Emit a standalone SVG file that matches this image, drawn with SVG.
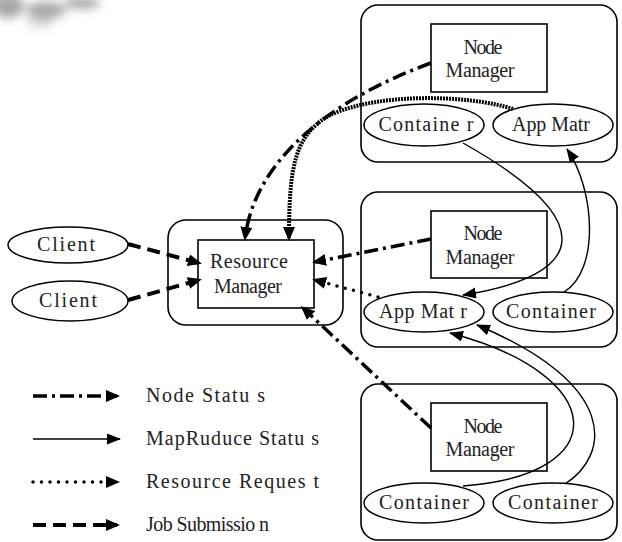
<svg xmlns="http://www.w3.org/2000/svg" width="622" height="542" viewBox="0 0 622 542">
<style>
.bg{fill:#fff}
.cl{fill:#fff;stroke:#000;stroke-width:1.6}
.bx{fill:#fff;stroke:#000;stroke-width:1.6}
.el{fill:#fff;stroke:#000;stroke-width:1.5}
.t{font-family:"Liberation Serif","Times New Roman",serif;font-size:20px;fill:#222;text-anchor:middle}
.tl{font-family:"Liberation Serif","Times New Roman",serif;font-size:20px;fill:#222;text-anchor:start}
.ns{fill:none;stroke:#000;stroke-width:3.5;stroke-dasharray:14 5 3 5}
.js{fill:none;stroke:#000;stroke-width:4;stroke-dasharray:13 7}
.rr{fill:none;stroke:#000;stroke-width:3.5;stroke-linecap:round;stroke-dasharray:0 8.5}
.rrd{fill:none;stroke:#000;stroke-width:4;stroke-dasharray:2 1}
.mr{fill:none;stroke:#000;stroke-width:1.4}
</style>
<defs>
<marker id="ah" markerUnits="userSpaceOnUse" markerWidth="16" markerHeight="12" refX="11" refY="6" orient="auto">
<path d="M0,0 L14,6 L0,12 z" fill="#000"/>
</marker>
<marker id="ahs" markerUnits="userSpaceOnUse" markerWidth="16" markerHeight="12" refX="13" refY="5.5" orient="auto">
<path d="M0,0 L14,5.5 L0,11 z" fill="#000"/>
</marker>
<filter id="blur" x="-50%" y="-50%" width="200%" height="200%"><feGaussianBlur stdDeviation="5"/></filter>
</defs>
<rect class="bg" x="0" y="0" width="622" height="542"/>
<g id="watermark" filter="url(#blur)" fill="#8a8a8a" opacity="0.75">
<ellipse cx="8" cy="6" rx="16" ry="12"/>
<ellipse cx="46" cy="10" rx="20" ry="8"/>
<ellipse cx="82" cy="3" rx="18" ry="6"/>
<ellipse cx="40" cy="22" rx="14" ry="5" opacity="0.5"/>
</g>

<g id="cluster-top"><rect class="cl" x="361" y="5" width="256" height="157" rx="17"/></g>
<g id="cluster-mid"><rect class="cl" x="361" y="192" width="256" height="155" rx="17"/></g>
<g id="cluster-bot"><rect class="cl" x="361" y="384" width="256" height="156" rx="17"/></g>
<g id="rm-outer"><rect class="cl" x="168" y="220" width="175" height="105" rx="18"/></g>

<g id="rm"><rect class="bx" x="198" y="240" width="116" height="68"/>
<text class="t" x="249" y="268" textLength="78">Resource</text>
<text class="t" x="248" y="293" textLength="68">Manager</text></g>

<g id="client1"><ellipse class="el" cx="68" cy="245" rx="60" ry="18"/>
<text class="t" x="66" y="251" textLength="58">Client</text></g>
<g id="client2"><ellipse class="el" cx="70" cy="301" rx="58" ry="20"/>
<text class="t" x="68" y="307" textLength="58">Client</text></g>

<g id="nm-top"><rect class="bx" x="431" y="24" width="116" height="68"/>
<text class="t" x="483" y="54" textLength="39">Node</text>
<text class="t" x="480" y="77" textLength="69">Manager</text></g>
<g id="container-top"><ellipse class="el" cx="424" cy="125" rx="60" ry="21"/>
<text class="t" x="426" y="131" textLength="95">Containe r</text></g>
<g id="appmstr-top"><ellipse class="el" cx="553" cy="125" rx="60" ry="21"/>
<text class="t" x="551" y="131" textLength="78">App Matr</text></g>

<g id="nm-mid"><rect class="bx" x="431" y="211" width="116" height="67"/>
<text class="t" x="483" y="240" textLength="39">Node</text>
<text class="t" x="480" y="264" textLength="69">Manager</text></g>
<g id="appmstr-mid"><ellipse class="el" cx="424" cy="312" rx="60" ry="20"/>
<text class="t" x="423" y="318" textLength="88">App Mat r</text></g>
<g id="container-mid"><ellipse class="el" cx="553" cy="312" rx="60" ry="20"/>
<text class="t" x="551" y="318" textLength="90">Container</text></g>

<g id="nm-bot"><rect class="bx" x="431" y="403" width="116" height="68"/>
<text class="t" x="483" y="433" textLength="39">Node</text>
<text class="t" x="480" y="456" textLength="69">Manager</text></g>
<g id="container-bot1"><ellipse class="el" cx="424" cy="503" rx="60" ry="20"/>
<text class="t" x="424" y="509" textLength="90">Container</text></g>
<g id="container-bot2"><ellipse class="el" cx="553" cy="503" rx="60" ry="20"/>
<text class="t" x="553" y="509" textLength="90">Container</text></g>

<g id="connectors">
<path class="js" d="M128,244 L199,263" marker-end="url(#ah)"/>
<path class="js" d="M128,300 L199,280" marker-end="url(#ah)"/>
<path class="ns" d="M431,63 C330,100 255,160 245,238" marker-end="url(#ah)"/>
<path class="rrd" d="M513,109 C470,95 380,92 330,115 C295,135 289,165 289,238" marker-end="url(#ah)"/>
<path class="ns" d="M431,239 L315,262" marker-end="url(#ah)"/>
<path class="rr" d="M378,297 L315,280" marker-end="url(#ah)"/>
<path class="ns" d="M431,428 L303,308" marker-end="url(#ah)"/>
<path class="mr" d="M463,143 C600,220 590,275 463,295" marker-end="url(#ahs)"/>
<path class="mr" d="M564,292 C600,270 595,190 567,149" marker-end="url(#ahs)"/>
<path class="mr" d="M463,486 C615,475 610,375 450,333" marker-end="url(#ahs)"/>
<path class="mr" d="M565,484 C610,455 620,385 477,325" marker-end="url(#ahs)"/>
</g>

<g id="legend">
<path class="ns" d="M33,396 L117,396" marker-end="url(#ah)"/>
<path class="mr" d="M33,439 L120,439" marker-end="url(#ahs)"/>
<path class="rr" d="M33,482 L117,482" marker-end="url(#ah)"/>
<path class="js" d="M33,525 L117,525" marker-end="url(#ah)"/>
<text class="tl" x="146" y="402" textLength="119">Node Statu s</text>
<text class="tl" x="146" y="445" textLength="173">MapRuduce Statu s</text>
<text class="tl" x="146" y="488" textLength="173">Resource Reques t</text>
<text class="tl" x="146" y="531" textLength="123">Job Submissio n</text>
</g>
</svg>
